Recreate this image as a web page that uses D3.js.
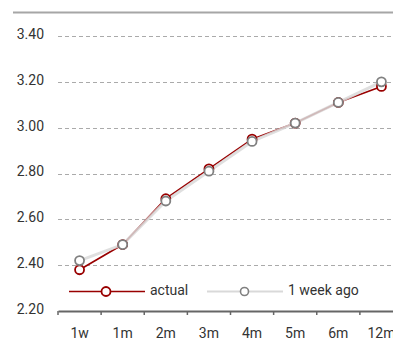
<!DOCTYPE html>
<html>
<head>
<meta charset="utf-8">
<script src="https://cdn.jsdelivr.net/npm/d3@7"></script>
<style>
  html, body { margin: 0; padding: 0; background: #fff; }
  svg { display: block; font-family: Roboto, "Liberation Sans", sans-serif; }
</style>
</head>
<body>
<svg id="chart" width="393" height="342"></svg>
<script>
// Tenors on the curve
const tenors = ["1w", "1m", "2m", "3m", "4m", "5m", "6m", "12m"];
// Current fixing
const actual = [2.38, 2.49, 2.69, 2.82, 2.95, 3.02, 3.11, 3.18];
// Fixing one week earlier
const weekAgo = [2.42, 2.49, 2.68, 2.81, 2.94, 3.02, 3.11, 3.20];
// Y axis ticks
const yTicks = [2.2, 2.4, 2.6, 2.8, 3.0, 3.2, 3.4];

const svg = d3.select("#chart");
const W = 393;
const FS = 14;

const x = d3.scaleBand().domain(tenors).range([58, 403]);
const y = d3.scaleLinear().domain([2.2, 3.4]).range([311, 36]);

// top rule
svg.append("line")
  .attr("x1", 13).attr("x2", W).attr("y1", 12.5).attr("y2", 12.5)
  .attr("stroke", "#a6a6a6").attr("stroke-width", 2);

// horizontal gridlines
svg.append("g").selectAll("line")
  .data(yTicks.filter(d => d > 2.2))
  .join("line")
  .attr("x1", 58).attr("x2", W)
  .attr("y1", d => Math.round(y(d)) + 0.5).attr("y2", d => Math.round(y(d)) + 0.5)
  .attr("stroke", "#aaaaaa").attr("stroke-width", 1)
  .attr("stroke-dasharray", "4,3");

// y labels
svg.append("g").selectAll("text")
  .data(yTicks)
  .join("text")
  .attr("x", 44).attr("y", d => y(d) - 2)
  .attr("dy", "0.35em")
  .attr("text-anchor", "end")
  .attr("font-size", FS).attr("fill", "#333")
  .text(d => d3.format(".2f")(d));

// x axis
const xAxis = d3.axisBottom(x).tickSize(0).tickPadding(17);
const gx = svg.append("g").attr("transform", "translate(0,311)").call(xAxis);
gx.select(".domain").attr("stroke", "#666").attr("stroke-width", 2);
gx.selectAll("text").attr("font-size", FS).attr("fill", "#333")
  .attr("font-family", "Roboto, 'Liberation Sans', sans-serif");
// tick marks between categories
gx.append("g").selectAll("line")
  .data(tenors)
  .join("line")
  .attr("x1", d => x(d)).attr("x2", d => x(d))
  .attr("y1", 0).attr("y2", 4)
  .attr("stroke", "#666").attr("stroke-width", 1.5);

const cx = d => x(d) + x.bandwidth() / 2;
const line = d3.line().x(d => cx(d.t)).y(d => y(d.v));
const actualPts = tenors.map((t, i) => ({ t, v: actual[i] }));
const weekPts = tenors.map((t, i) => ({ t, v: weekAgo[i] }));

// series lines
svg.append("path").datum(actualPts).attr("d", line)
  .attr("fill", "none").attr("stroke", "#990000").attr("stroke-width", 1.6);
svg.append("path").datum(weekPts).attr("d", line)
  .attr("fill", "none").attr("stroke", "#d9d9d9").attr("stroke-width", 3)
  .attr("stroke-opacity", 0.85);

// markers
svg.append("g").selectAll("circle").data(actualPts).join("circle")
  .attr("cx", d => cx(d.t)).attr("cy", d => y(d.v)).attr("r", 4.5)
  .attr("fill", "#fff").attr("stroke", "#990000").attr("stroke-width", 1.8);
svg.append("g").selectAll("circle").data(weekPts).join("circle")
  .attr("cx", d => cx(d.t)).attr("cy", d => y(d.v)).attr("r", 4.5)
  .attr("fill", "#fff").attr("stroke", "#808080").attr("stroke-width", 1.8);

// legend
const ly = 291.5;
const leg = svg.append("g");
leg.append("line").attr("x1", 69).attr("x2", 145).attr("y1", ly).attr("y2", ly)
  .attr("stroke", "#990000").attr("stroke-width", 1.6);
leg.append("circle").attr("cx", 106).attr("cy", ly).attr("r", 4.5)
  .attr("fill", "#fff").attr("stroke", "#990000").attr("stroke-width", 1.8);
leg.append("text").attr("x", 150).attr("y", ly - 1).attr("dy", "0.35em")
  .attr("font-size", FS).attr("fill", "#333").text("actual");

leg.append("line").attr("x1", 207).attr("x2", 283).attr("y1", ly).attr("y2", ly)
  .attr("stroke", "#d9d9d9").attr("stroke-width", 2);
leg.append("circle").attr("cx", 244.5).attr("cy", ly).attr("r", 4)
  .attr("fill", "#fff").attr("stroke", "#808080").attr("stroke-width", 1.6);
leg.append("text").attr("x", 288).attr("y", ly - 1).attr("dy", "0.35em")
  .attr("font-size", FS).attr("fill", "#333").text("1 week ago");
</script>
</body>
</html>
